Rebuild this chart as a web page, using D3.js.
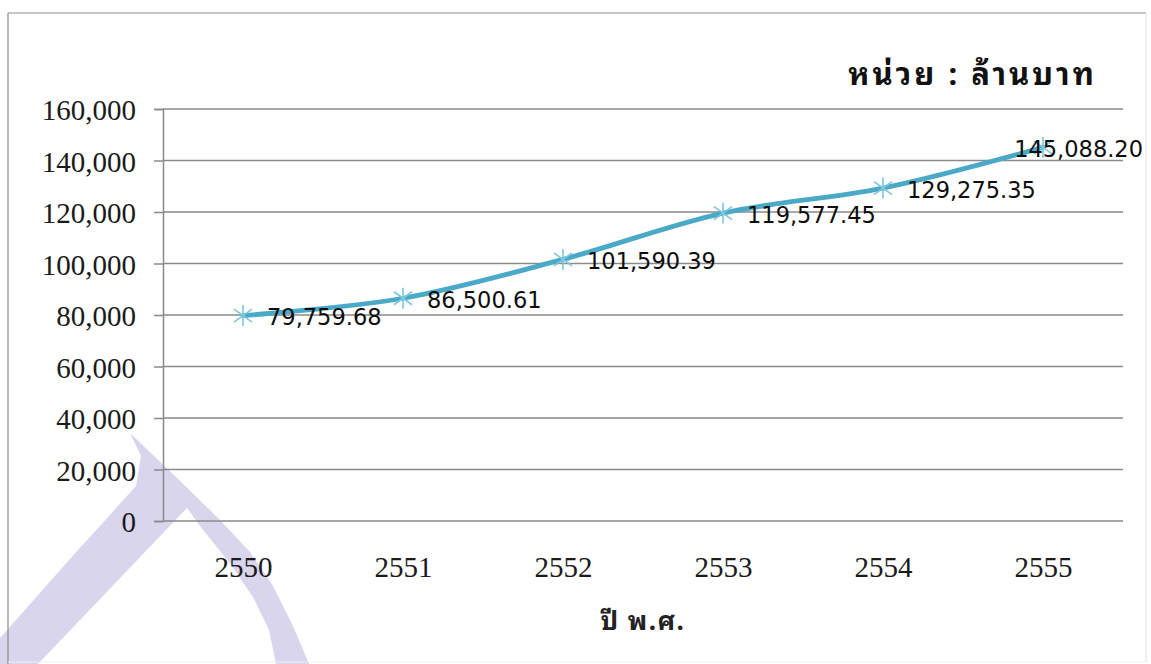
<!DOCTYPE html>
<html>
<head>
<meta charset="utf-8">
<script src="https://cdn.jsdelivr.net/npm/d3@7"></script>
<style>
  html, body { margin: 0; padding: 0; background: #ffffff; }
  svg { display: block; }
</style>
</head>
<body>
<svg id="chart" width="1151" height="664"></svg>
<script>
// Revenue by Buddhist-era year (unit: million baht)
const years = ["2550", "2551", "2552", "2553", "2554", "2555"];
const revenue = [79759.68, 86500.61, 101590.39, 119577.45, 129275.35, 145088.20];
const yTickValues = [0, 20000, 40000, 60000, 80000, 100000, 120000, 140000, 160000];
const unitLabel = "หน่วย : ล้านบาท";
const xAxisTitle = "ปี พ.ศ.";

const W = 1151, H = 664;
const plot = { left: 163, right: 1123, top: 109, bottom: 521 };
const thaiFont = "'Noto Sans Thai Looped', Tahoma, 'Noto Sans Thai', 'Noto Sans', sans-serif";

const svg = d3.select("#chart");

// page background
svg.append("rect").attr("width", W).attr("height", H).attr("fill", "#ffffff");

// faint lavender decoration in the lower-left corner
const deco = [
  [130, 433], [175, 476], [220, 520], [250, 552], [273, 586], [293, 626], [309, 664],
  [276, 664], [269, 630], [253, 597], [229, 562], [203, 530], [187, 508],
  [38, 664], [0, 664], [0, 638], [78, 550], [100, 526], [136, 486], [141, 456]
];
svg.append("path")
  .attr("d", d3.line()(deco) + "Z")
  .attr("fill", "#d9d5ed");

// chart frame
svg.append("line").attr("x1", 8).attr("y1", 13).attr("x2", 1146).attr("y2", 13)
  .attr("stroke", "#8c8c8c").attr("stroke-width", 1.2);
svg.append("line").attr("x1", 8).attr("y1", 13).attr("x2", 8).attr("y2", 664)
  .attr("stroke", "#8c8c8c").attr("stroke-width", 1.2);
svg.append("line").attr("x1", 1146).attr("y1", 13).attr("x2", 1146).attr("y2", 662)
  .attr("stroke", "#e2e2e2").attr("stroke-width", 1);
svg.append("line").attr("x1", 8).attr("y1", 662).attr("x2", 1146).attr("y2", 662)
  .attr("stroke", "#efefef").attr("stroke-width", 1);

const x = d3.scalePoint().domain(years).range([plot.left, plot.right]).padding(0.5);
const y = d3.scaleLinear().domain([0, 160000]).range([plot.bottom, plot.top]);

// horizontal gridlines
svg.append("g").selectAll("line").data(yTickValues).join("line")
  .attr("x1", plot.left).attr("x2", plot.right)
  .attr("y1", d => y(d)).attr("y2", d => y(d))
  .attr("stroke", "#8a8a8a").attr("stroke-width", 1.5);

// value axis
const yAxis = d3.axisLeft(y).tickValues(yTickValues).tickFormat(d3.format(","))
  .tickSize(9).tickPadding(18);
const gy = svg.append("g").attr("transform", `translate(${plot.left},0)`).call(yAxis);
gy.select(".domain").attr("stroke", "#8a8a8a").attr("stroke-width", 1.5);
gy.selectAll(".tick line").attr("stroke", "#8a8a8a").attr("stroke-width", 1.5);
gy.selectAll(".tick text")
  .attr("font-family", "'Liberation Serif', 'Times New Roman', serif")
  .attr("font-size", 29).attr("fill", "#1a1a1a").attr("dy", "0.37em");

// category axis
const xAxis = d3.axisBottom(x).tickSize(0).tickPadding(56);
const gx = svg.append("g").attr("transform", `translate(0,${plot.bottom})`).call(xAxis);
gx.select(".domain").remove();
gx.selectAll(".tick text")
  .attr("font-family", "'Liberation Serif', 'Times New Roman', serif")
  .attr("font-size", 29).attr("fill", "#1a1a1a").attr("dy", "0");

// series line
const pts = years.map((yr, i) => [x(yr), y(revenue[i])]);
svg.append("path")
  .attr("d", d3.line().curve(d3.curveCardinal.tension(0))(pts))
  .attr("fill", "none").attr("stroke", "#4aa9c6").attr("stroke-width", 4.8)
  .attr("stroke-linecap", "round");

// asterisk markers
const star = "M0,-10.5V10.5M-9,-6.5L9,6.5M-9,6.5L9,-6.5";
svg.append("g").selectAll("path").data(revenue).join("path")
  .attr("transform", (d, i) => `translate(${x(years[i])},${y(d)})`)
  .attr("d", star).attr("fill", "none")
  .attr("stroke", "#7cc6de").attr("stroke-width", 1.6);

// data labels to the right of each point, kept inside the frame
const fmt = d3.format(",.2f");
const labels = svg.append("g").selectAll("text").data(revenue).join("text")
  .attr("font-family", "'DejaVu Sans', Verdana, sans-serif")
  .attr("font-size", 22.5).attr("fill", "#0d0d0d")
  .attr("y", d => y(d) + 9.5)
  .text(d => fmt(d));
labels.each(function (d, i) {
  const w = this.getComputedTextLength();
  const x0 = Math.min(x(years[i]) + 24, 1143 - w);
  d3.select(this).attr("x", x0);
});

// unit note
svg.append("text")
  .attr("x", 1097).attr("y", 85).attr("text-anchor", "end")
  .attr("font-family", thaiFont)
  .attr("font-weight", "bold").attr("font-size", 31).attr("letter-spacing", 3)
  .attr("fill", "#111111")
  .text(unitLabel);

// axis title
svg.append("text")
  .attr("x", (plot.left + plot.right) / 2).attr("y", 630).attr("text-anchor", "middle")
  .attr("font-family", thaiFont)
  .attr("font-weight", "bold").attr("font-size", 26).attr("letter-spacing", 1.5)
  .attr("fill", "#222222")
  .text(xAxisTitle);
</script>
</body>
</html>
